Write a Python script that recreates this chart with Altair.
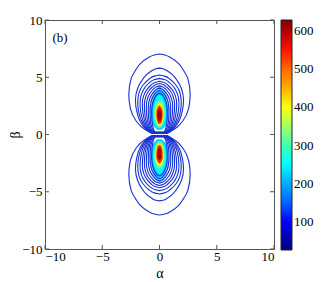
import altair as alt
import pandas as pd

# ---- axis / colorbar values ----
alpha_ticks = [-10, -5, 0, 5, 10]
beta_ticks = [-10, -5, 0, 5, 10]
cbar_ticks = [100, 200, 300, 400, 500, 600]
cbar_domain = [27, 628]
panel_label = "(b)"

# ---- contour lines of the upper lobe (lower lobe is its mirror in beta) ----
# each contour: beta positions (bottom -> top) and half width in alpha
contour_beta = [
    [0.10, 0.30, 0.70, 1.20, 2.30, 3.50, 4.90, 5.60, 6.10, 6.70, 6.95, 7.03],
    [0.12, 0.30, 0.70, 1.20, 2.00, 3.00, 4.00, 4.70, 5.20, 5.55, 5.75, 5.80],
    [0.13, 0.30, 0.70, 1.30, 2.00, 2.80, 3.60, 4.30, 4.80, 5.10, 5.20],
    [0.14, 0.30, 0.70, 1.30, 2.00, 2.80, 3.50, 4.10, 4.55, 4.80, 4.90],
    [0.15, 0.30, 0.70, 1.30, 2.00, 2.70, 3.40, 3.90, 4.30, 4.55, 4.65],
    [0.16, 0.30, 0.70, 1.30, 2.00, 2.60, 3.30, 3.80, 4.15, 4.37, 4.45],
    [0.17, 0.30, 0.70, 1.30, 2.00, 2.50, 3.20, 3.65, 3.98, 4.18, 4.25],
    [0.18, 0.30, 0.70, 1.30, 2.00, 2.50, 3.10, 3.50, 3.80, 3.98, 4.05],
    [0.20, 0.35, 0.70, 1.30, 2.00, 2.50, 3.00, 3.35, 3.62, 3.79, 3.85],
    [0.22, 0.40, 0.80, 1.40, 2.00, 2.50, 2.90, 3.20, 3.42, 3.55, 3.60],
]
contour_halfwidth = [
    [0.70, 1.05, 1.60, 2.05, 2.55, 2.68, 2.47, 2.10, 1.75, 1.00, 0.45, 0.00],
    [0.65, 0.95, 1.40, 1.72, 1.98, 2.10, 1.92, 1.55, 1.15, 0.70, 0.30, 0.00],
    [0.62, 0.90, 1.30, 1.62, 1.82, 1.90, 1.80, 1.45, 0.95, 0.45, 0.00],
    [0.60, 0.85, 1.20, 1.48, 1.64, 1.70, 1.58, 1.28, 0.85, 0.42, 0.00],
    [0.57, 0.80, 1.10, 1.33, 1.46, 1.50, 1.38, 1.12, 0.75, 0.38, 0.00],
    [0.54, 0.74, 1.00, 1.20, 1.30, 1.32, 1.20, 0.95, 0.62, 0.30, 0.00],
    [0.50, 0.68, 0.90, 1.06, 1.14, 1.15, 1.03, 0.80, 0.52, 0.26, 0.00],
    [0.46, 0.60, 0.80, 0.93, 0.98, 0.97, 0.86, 0.66, 0.43, 0.20, 0.00],
    [0.42, 0.54, 0.69, 0.80, 0.83, 0.80, 0.70, 0.53, 0.34, 0.16, 0.00],
    [0.38, 0.50, 0.60, 0.67, 0.68, 0.64, 0.55, 0.42, 0.27, 0.12, 0.00],
]

# ---- coloured (filled) levels of the upper lobe ----
fill_values = [200, 215, 250, 320, 400, 480, 550, 610]
fill_beta = [
    [0.40, 0.70, 1.20, 2.10, 2.80, 3.40, 3.90, 4.15, 4.20],
    [0.45, 0.75, 1.30, 2.10, 2.80, 3.30, 3.70, 3.80],
    [0.55, 0.85, 1.40, 2.00, 2.60, 3.10, 3.40, 3.45],
    [0.68, 1.00, 1.50, 2.00, 2.50, 2.85, 3.00],
    [0.80, 1.10, 1.60, 2.00, 2.40, 2.65, 2.72],
    [0.90, 1.15, 1.60, 2.00, 2.35, 2.60],
    [0.98, 1.20, 1.60, 2.00, 2.30, 2.52],
    [1.20, 1.40, 1.70, 2.00, 2.15, 2.22],
]
fill_halfwidth = [
    [0.20, 0.50, 0.75, 0.87, 0.80, 0.60, 0.35, 0.12, 0.00],
    [0.18, 0.45, 0.66, 0.72, 0.62, 0.42, 0.18, 0.00],
    [0.15, 0.38, 0.55, 0.58, 0.50, 0.32, 0.12, 0.00],
    [0.13, 0.32, 0.45, 0.46, 0.38, 0.22, 0.00],
    [0.11, 0.26, 0.35, 0.36, 0.28, 0.14, 0.00],
    [0.10, 0.22, 0.29, 0.29, 0.20, 0.00],
    [0.08, 0.18, 0.24, 0.24, 0.15, 0.00],
    [0.06, 0.13, 0.17, 0.15, 0.08, 0.00],
]

jet_colors = ["#00007f", "#0000ff", "#007fff", "#00ffff", "#7fff7f",
              "#ffff00", "#ff7f00", "#ff0000", "#7f0000"]

FONT = "Liberation Serif"
W = 229
H = 229


def lobe_rows(betas, widths, key, value=None):
    rows = []
    for sign, lobe in ((1, "up"), (-1, "down")):
        for b, w in zip(betas, widths):
            r = {"b": sign * b, "lo": -w, "hi": w, "key": f"{key}_{lobe}"}
            if value is not None:
                r["v"] = value
            rows.append(r)
    return rows


x_scale = alt.Scale(domain=[-10, 10], nice=False, zero=False)
y_scale = alt.Scale(domain=[-10, 10], nice=False, zero=False)
n = len(jet_colors)
stops = [cbar_domain[0] + i * (cbar_domain[1] - cbar_domain[0]) / (n - 1) for i in range(n)]
color_scale = alt.Scale(domain=stops, range=jet_colors, clamp=True)

legend = alt.Legend(
    orient="none", legendX=W + 7, legendY=0, direction="vertical",
    gradientLength=H + 1, gradientThickness=11, title=None,
    values=cbar_ticks, labelFont=FONT, labelFontSize=13, labelColor="black",
    labelOverlap=False, gradientStrokeColor="#222", gradientStrokeWidth=1,
    padding=0, labelOffset=2,
)

layers = []
for i, (val, bs, ws) in enumerate(zip(fill_values, fill_beta, fill_halfwidth)):
    df = pd.DataFrame(lobe_rows(bs, ws, f"f{i}", val))
    enc = dict(
        y=alt.Y("b:Q", scale=y_scale),
        x=alt.X("lo:Q", scale=x_scale),
        x2="hi:Q",
        detail="key:N",
    )
    layers.append(
        alt.Chart(df).mark_area(orient="horizontal", interpolate="monotone").encode(
            color=alt.Color("v:Q", scale=color_scale, legend=legend), **enc
        )
    )
    if i == 0:
        # soften the outermost band (pale edge of the shaded region)
        layers.append(
            alt.Chart(df).mark_area(orient="horizontal", interpolate="monotone",
                                    color="white", opacity=0.5).encode(**enc)
        )

line_rows = []
for i, (bs, ws) in enumerate(zip(contour_beta, contour_halfwidth)):
    line_rows += lobe_rows(bs, ws, f"c{i}")
lines = alt.Chart(pd.DataFrame(line_rows)).mark_area(
    orient="horizontal", interpolate="monotone", filled=False,
    color="#1530d8", strokeWidth=1.1, fillOpacity=0,
).encode(
    y=alt.Y("b:Q", scale=y_scale),
    x=alt.X("lo:Q", scale=x_scale),
    x2="hi:Q",
    detail="key:N",
)
layers.append(lines)

# inward tick marks on all four sides
tl = 4 * 20 / W
vt = []
for t in alpha_ticks:
    vt.append({"x": t, "y": -10, "y2": -10 + tl})
    vt.append({"x": t, "y": 10, "y2": 10 - tl})
ht = []
for t in beta_ticks:
    ht.append({"y": t, "x": -10, "x2": -10 + tl})
    ht.append({"y": t, "x": 10, "x2": 10 - tl})
vticks = alt.Chart(pd.DataFrame(vt)).mark_rule(color="#555", strokeWidth=1).encode(
    x=alt.X("x:Q", scale=x_scale), y=alt.Y("y:Q", scale=y_scale), y2="y2:Q")
hticks = alt.Chart(pd.DataFrame(ht)).mark_rule(color="#555", strokeWidth=1).encode(
    y=alt.Y("y:Q", scale=y_scale), x=alt.X("x:Q", scale=x_scale), x2="x2:Q")

label = alt.Chart(pd.DataFrame({"t": [panel_label]})).mark_text(
    font=FONT, fontSize=13, color="black", align="center", baseline="middle",
    fontWeight="normal",
).encode(x=alt.value(15), y=alt.value(18), text="t:N")

base_axes = alt.Chart(pd.DataFrame({"a": [0], "b": [0]})).mark_point(opacity=0).encode(
    x=alt.X("a:Q", scale=x_scale, title="α",
            axis=alt.Axis(values=alpha_ticks, titleFontSize=14, titleY=28,
                          titleBaseline="alphabetic", labelPadding=1)),
    y=alt.Y("b:Q", scale=y_scale, title="β",
            axis=alt.Axis(values=beta_ticks, titleFontSize=14, titleX=-30,
                          titleBaseline="middle", labelPadding=3)),
)

chart = alt.layer(base_axes, *layers, vticks, hticks, label).properties(
    width=W, height=H,
    background="white",
    autosize=alt.AutoSizeParams(type="none"),
    padding={"left": 37, "top": 12, "right": 50, "bottom": 33},
).configure_view(
    stroke="#555", strokeWidth=1
).configure_axis(
    labelFont=FONT, labelFontSize=13, labelColor="black",
    titleFont=FONT, titleColor="black", titleFontWeight="normal",
    ticks=False, domain=False, grid=False,
)

chart.save("out.html", embed_options={"renderer": "svg", "actions": False})
